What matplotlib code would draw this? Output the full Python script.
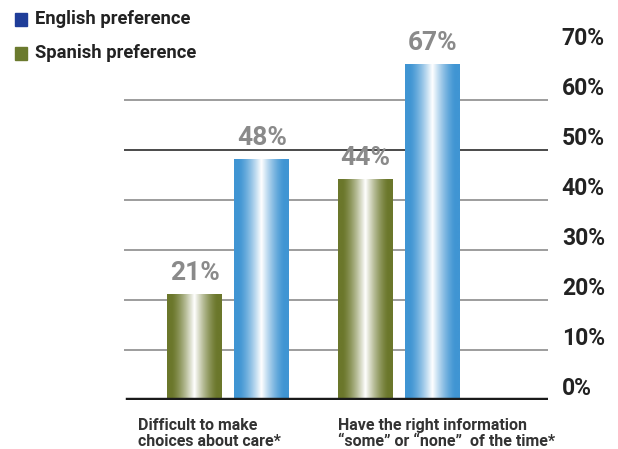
import numpy as np
import matplotlib.pyplot as plt
from matplotlib.colors import LinearSegmentedColormap

# data
categories = ["Difficult to make\nchoices about care*",
              "Have the right information\n\u201csome\u201d or \u201cnone\u201d  of the time*"]
spanish = [21, 44]
english = [48, 67]
value_labels_sp = ["21%", "44%"]
value_labels_en = ["48%", "67%"]
y_ticks = [0, 10, 20, 30, 40, 50, 60, 70]
y_tick_labels = ["0%", "10%", "20%", "30%", "40%", "50%", "60%", "70%"]
grid_vals = [10, 20, 30, 40, 50, 60]

plt.rcParams['font.family'] = ['Roboto', 'DejaVu Sans']

fig = plt.figure(figsize=(6.18, 4.49), dpi=100)
ax = fig.add_axes([0.2006, 0.109, 0.686, 0.7796])

x = np.arange(len(categories))
off = 0.1965
w = 0.3226

# gridlines
for g in grid_vals:
    c = '#2b2b2b' if g == 50 else '#8c8c8c'
    ax.axhline(g, color=c, lw=1.2, zorder=1)

bars_sp = ax.bar(x - off, spanish, w, color='none', zorder=2)
bars_en = ax.bar(x + off, english, w, color='none', zorder=2)

# horizontal gradient: colour at the edges, white in the middle
t = np.linspace(0, 1, 256)
wht = np.clip(1 - np.abs(t - 0.5) / 0.42, 0, 1) ** 1.4
grad = wht[np.newaxis, :]
cm_green = LinearSegmentedColormap.from_list('g', ['#6b772b', '#ffffff'])
cm_blue = LinearSegmentedColormap.from_list('b', ['#4095d3', '#ffffff'])

for bars, cmap in [(bars_sp, cm_green), (bars_en, cm_blue)]:
    for b in bars:
        x0, y0 = b.get_x(), b.get_y()
        ax.imshow(grad, cmap=cmap, aspect='auto', vmin=0, vmax=1,
                  extent=(x0, x0 + b.get_width(), y0, y0 + b.get_height()),
                  zorder=2, interpolation='bilinear')

# value labels
for bars, labs in [(bars_sp, value_labels_sp), (bars_en, value_labels_en)]:
    for b, lab in zip(bars, labs):
        ax.annotate(lab, (b.get_x() + b.get_width() / 2, b.get_height()),
                    xytext=(0, 7), textcoords='offset points', ha='center',
                    va='bottom', fontsize=19, fontweight='bold', color='#8a8a8a')

# baseline
ax.axhline(0, color='#1a1a1a', lw=3.2, zorder=3, xmin=0.01)

ax.set_xlim(-0.613, 1.874)
ax.set_ylim(0, 70)

ax.yaxis.tick_right()
ax.set_yticks(y_ticks)
ax.set_yticklabels(y_tick_labels, fontsize=16.5, fontweight='bold', color='#222222')
ax.tick_params(axis='y', length=0, pad=10)
for lab in ax.get_yticklabels():
    lab.set_va('bottom')
ax.set_xticks([])
for s in ax.spines.values():
    s.set_visible(False)

# category labels
for xi, cat in zip(x, categories):
    ax.text(xi - off - w / 2 - 0.17 if xi == 0 else xi - off - w / 2, -3.5, cat,
            ha='left', va='top', fontsize=11.5, fontweight='bold',
            color='#333333', linespacing=1.15)

# legend
fig.patches.append(plt.Rectangle((15 / 618, 1 - 26 / 449), 12 / 618, 13 / 449,
                                 transform=fig.transFigure, color='#1f3d99'))
fig.patches.append(plt.Rectangle((15 / 618, 1 - 60 / 449), 12 / 618, 13 / 449,
                                 transform=fig.transFigure, color='#6b7a2e'))
fig.text(35 / 618, 1 - 19 / 449, "English preference", fontsize=13.2,
         fontweight='bold', color='#222222', va='center')
fig.text(35 / 618, 1 - 53 / 449, "Spanish preference", fontsize=13.2,
         fontweight='bold', color='#222222', va='center')

fig.savefig('out.png', dpi=100)
